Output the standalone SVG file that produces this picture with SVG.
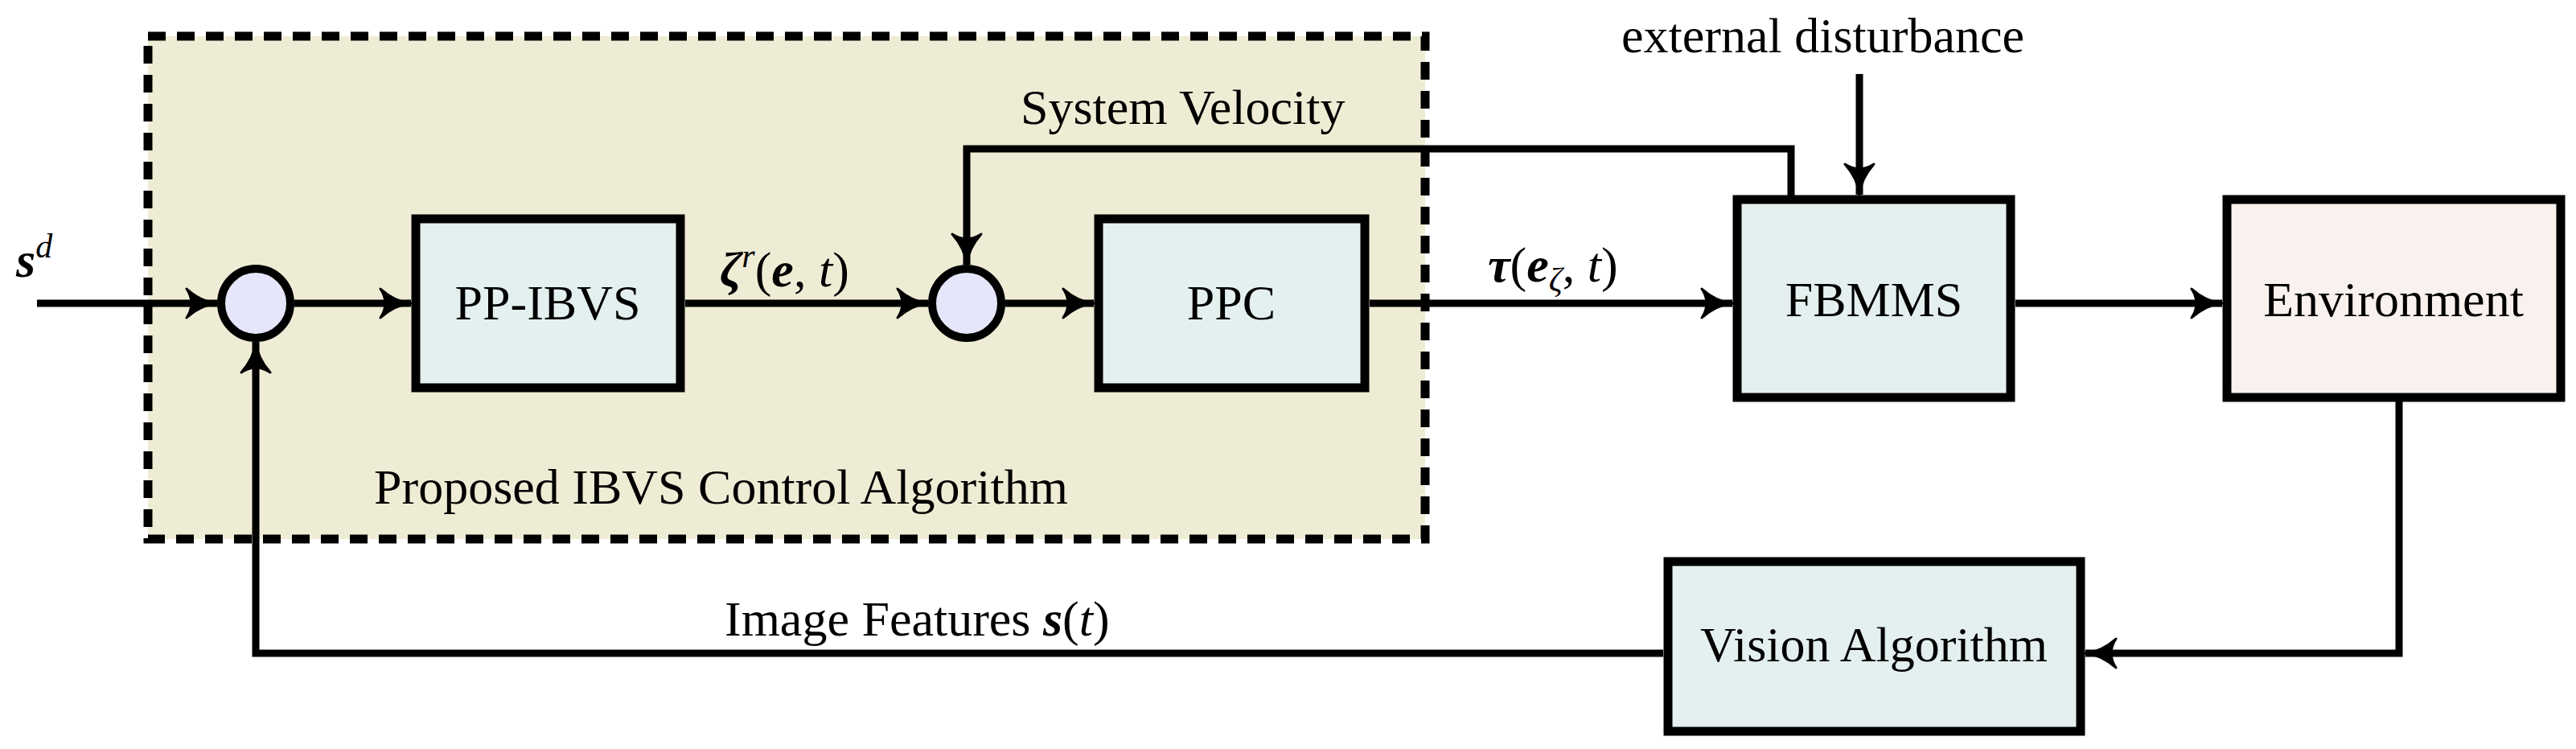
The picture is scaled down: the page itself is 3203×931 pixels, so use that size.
<svg xmlns="http://www.w3.org/2000/svg" width="3203" height="931" viewBox="0 0 3203 931">
<style>
.box{fill:#e4f0ef;stroke:#000;stroke-width:11}
.env{fill:#f8f1ed;stroke:#000;stroke-width:11}
.sum{fill:#e6e6fa;stroke:#000;stroke-width:10}
.ln{fill:none;stroke:#000;stroke-width:9}
text{font-family:"Liberation Serif",serif;font-size:62px;fill:#000}
.c{text-anchor:middle}
.m{font-style:italic}
.b{font-weight:bold;font-style:italic}
</style>
<defs>
<marker id="a" markerUnits="userSpaceOnUse" markerWidth="50" markerHeight="50" refX="40" refY="20" orient="auto" viewBox="0 0 50 40">
<path d="M2,2 Q20,18 40,20 Q20,22 2,38 Q14,20 2,2 Z" fill="#000" stroke="#000" stroke-width="3" stroke-linejoin="round"/>
</marker>
</defs>
<g id="ibvs-region">
<rect x="184" y="45" width="1588" height="625" fill="#efecd5" stroke="#000" stroke-width="11" stroke-dasharray="22,14"/>
<text x="465" y="626">Proposed IBVS Control Algorithm</text>
</g>
<g id="connectors">
<line class="ln" x1="46" y1="377" x2="270" y2="377" marker-end="url(#a)"/>
<line class="ln" x1="366" y1="377" x2="511" y2="377" marker-end="url(#a)"/>
<line class="ln" x1="852" y1="377" x2="1154" y2="377" marker-end="url(#a)"/>
<line class="ln" x1="1250" y1="377" x2="1360" y2="377" marker-end="url(#a)"/>
<line class="ln" x1="1703" y1="377" x2="2154" y2="377" marker-end="url(#a)"/>
<line class="ln" x1="2506" y1="377" x2="2763" y2="377" marker-end="url(#a)"/>
<polyline class="ln" points="2227,248 2227,185 1202,185 1202,329" marker-end="url(#a)"/>
<line class="ln" x1="2312" y1="92" x2="2312" y2="242" marker-end="url(#a)"/>
<polyline class="ln" points="2983,494 2983,812 2593,812" marker-end="url(#a)"/>
<polyline class="ln" points="2068,812 318,812 318,425" marker-end="url(#a)"/>
</g>
<g id="sum1"><circle class="sum" cx="318" cy="377" r="43"/></g>
<g id="sum2"><circle class="sum" cx="1202" cy="377" r="43"/></g>
<g id="ppibvs"><rect class="box" x="517" y="272" width="329" height="210"/><text class="c" x="681" y="397">PP-IBVS</text></g>
<g id="ppc"><rect class="box" x="1366" y="272" width="331" height="210"/><text class="c" x="1531" y="397">PPC</text></g>
<g id="fbmms"><rect class="box" x="2160" y="248" width="340" height="246"/><text class="c" x="2330" y="393">FBMMS</text></g>
<g id="environment"><rect class="env" x="2769" y="248" width="415" height="246"/><text class="c" x="2976" y="393">Environment</text></g>
<g id="vision"><rect class="box" x="2074" y="698" width="513" height="211"/><text class="c" x="2330" y="822">Vision Algorithm</text></g>
<g id="labels">
<text x="20" y="344"><tspan class="b">s</tspan><tspan class="m" font-size="42" dy="-24">d</tspan></text>
<text x="895" y="356"><tspan class="b">ζ</tspan><tspan class="m" font-size="42" dy="-24">r</tspan><tspan dy="24">(</tspan><tspan class="b">e</tspan>, <tspan class="m">t</tspan>)</text>
<text x="1850" y="350"><tspan class="b">τ</tspan>(<tspan class="b">e</tspan><tspan class="m" font-size="42" dy="12">ζ</tspan><tspan dy="-12">, </tspan><tspan class="m">t</tspan>)</text>
<text x="1269" y="154">System Velocity</text>
<text x="2016" y="65">external disturbance</text>
<text x="901" y="790">Image Features <tspan class="b">s</tspan>(<tspan class="m">t</tspan>)</text>
</g>
</svg>
